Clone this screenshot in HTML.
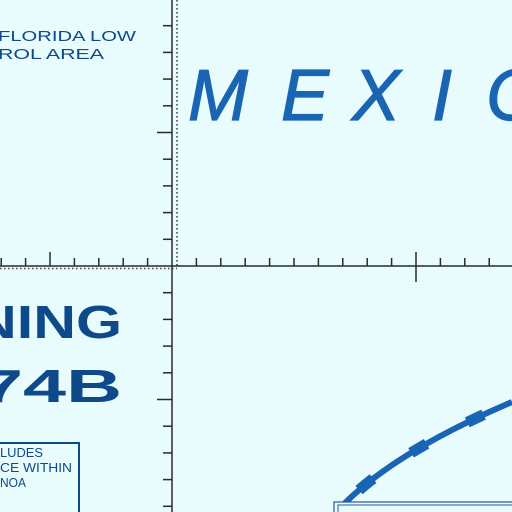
<!DOCTYPE html>
<html><head><meta charset="utf-8"><style>
html,body{margin:0;padding:0;background:#e8fbfd;}
svg{display:block}
</style></head><body>
<svg width="512" height="512" viewBox="0 0 512 512" font-family="Liberation Sans, sans-serif">
<rect width="512" height="512" fill="#e8fbfd"/>
<g stroke="#2a2a2a" stroke-width="1.5">
  <line x1="0" y1="266" x2="512" y2="266"/>
  <line x1="172" y1="0" x2="172" y2="512"/>
</g>
<line x1="177" y1="0" x2="177" y2="268" stroke="#444" stroke-width="1.6" stroke-dasharray="1.5 2.5"/>
<line x1="0" y1="268.5" x2="177" y2="268.5" stroke="#444" stroke-width="1.6" stroke-dasharray="1.5 2.5"/>
<g id="ticks" stroke="#2a2a2a" stroke-width="1.5"></g>
<text x="-2" y="41" font-size="15" fill="#0e4a8a" textLength="138" lengthAdjust="spacingAndGlyphs">FLORIDA LOW</text>
<text x="-2" y="59" font-size="15" fill="#0e4a8a" textLength="106" lengthAdjust="spacingAndGlyphs">ROL AREA</text>
<g font-size="72" font-style="italic" fill="#1a64b4" stroke="#1a64b4" stroke-width="1.2">
  <text x="188" y="120">M</text><text x="281" y="120">E</text><text x="352" y="120">X</text><text x="432" y="120">I</text><text x="486" y="120">C</text>
</g>
<text x="-26" y="338" font-size="46" font-weight="bold" fill="#0e4a8a" textLength="148" lengthAdjust="spacingAndGlyphs">NING</text>
<text x="-20" y="402" font-size="46" font-weight="bold" fill="#0e4a8a" textLength="142" lengthAdjust="spacingAndGlyphs">74B</text>
<rect x="-5" y="443" width="84" height="80" fill="none" stroke="#0e4a8a" stroke-width="2"/>
<g font-size="13" fill="#0e4a8a">
  <text x="0" y="457" textLength="43" lengthAdjust="spacingAndGlyphs">LUDES</text><text x="0" y="472" textLength="72" lengthAdjust="spacingAndGlyphs">CE WITHIN</text><text x="0" y="487" textLength="26" lengthAdjust="spacingAndGlyphs">NOA</text>
</g>
<path d="M343 505 Q395 452 512 402" fill="none" stroke="#1a64b4" stroke-width="6"/>
<path d="M343 505 Q395 452 512 402" fill="none" stroke="#1a64b4" stroke-width="11" stroke-dasharray="0 22 18 24"/>
<rect x="334" y="502" width="190" height="20" fill="#e8fbfd" stroke="#2a5a9a" stroke-width="1.2"/>
<rect x="338" y="505" width="190" height="20" fill="none" stroke="#2a5a9a" stroke-width="1"/>
</svg>
<script>
const g=document.getElementById('ticks');
function tk(x1,y1,x2,y2){const l=document.createElementNS('http://www.w3.org/2000/svg','line');
l.setAttribute('x1',x1);l.setAttribute('y1',y1);l.setAttribute('x2',x2);l.setAttribute('y2',y2);


g.appendChild(l);}
for(let i=-7;i<=14;i++){const x=172+i*24.4;if(i===0)continue;const long=(i===-5||i===10);tk(x,266,x,long?252:258);if(i===10)tk(x,266,x,282);}
for(let i=1;i<=9;i++){const y=266-i*26.7;const long=(i===5);tk(172,y,long?157:163,y);}
for(let i=1;i<=9;i++){const y=266+i*26.7;const long=(i===5);tk(172,y,long?157:163,y);}
</script>
</body></html>
